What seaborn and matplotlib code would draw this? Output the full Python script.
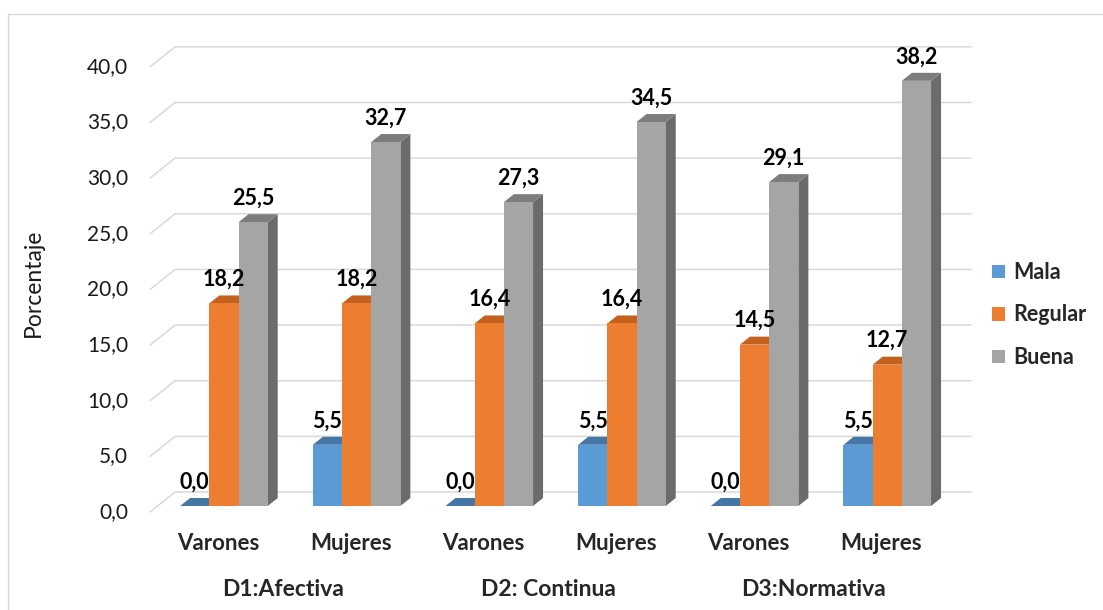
import numpy as np
import pandas as pd
import matplotlib
matplotlib.use("Agg")
import matplotlib.pyplot as plt
import seaborn as sns
from matplotlib.patches import Polygon, Patch
from matplotlib.lines import Line2D
from matplotlib.transforms import ScaledTranslation, IdentityTransform

# ---- data -------------------------------------------------------------
dimensions = ["D1:Afectiva", "D2: Continua", "D3:Normativa"]
sexes = ["Varones", "Mujeres"]
levels = ["Mala", "Regular", "Buena"]
mala = [0.0, 5.5, 0.0, 5.5, 0.0, 5.5]
regular = [18.2, 18.2, 16.4, 16.4, 14.5, 12.7]
buena = [25.5, 32.7, 27.3, 34.5, 29.1, 38.2]
y_ticks = [0, 5, 10, 15, 20, 25, 30, 35, 40]

# ---- style ------------------------------------------------------------
front_colors = ["#5b9bd5", "#ed7d31", "#a5a5a5"]
top_colors = ["#4676a6", "#c4611f", "#7d7d7d"]
side_colors = ["#41709c", "#b8581a", "#6b6b6b"]
grid_color = "#d9d9d9"
FONT = "Lato"

sns.set_theme(style="white")
plt.rcParams["font.family"] = [FONT, "DejaVu Sans"]

DPI = 100
W, H = 1103, 610
fig = plt.figure(figsize=(W / DPI, H / DPI), dpi=DPI)
ax = fig.add_axes([157.6 / W, (H - 506) / H, 796 / W, 445.2 / H])

# long-form table for seaborn
groups = [f"{d}|{s}" for d in dimensions for s in sexes]
values = {"Mala": mala, "Regular": regular, "Buena": buena}
rows = []
for lvl in levels:
    for g, v in zip(groups, values[lvl]):
        rows.append({"grupo": g, "nivel": lvl, "valor": v})
df = pd.DataFrame(rows)

sns.barplot(data=df, x="grupo", y="valor", hue="nivel", order=groups,
            hue_order=levels, palette=front_colors, saturation=1,
            width=0.66, legend=False, errorbar=None, linewidth=0,
            ax=ax)

ax.set_xlim(-0.5, len(groups) - 0.5)
ax.set_ylim(0, 40)
ax.set_axis_off()

fig.canvas.draw()

# depth offsets in pixels
BAR_DX, BAR_DY = 10, 8          # bar depth
BACK_DX, BACK_DY = 17.5, 14     # bar plane -> back wall
FRONT_DX, FRONT_DY = -7.5, -6   # bar plane -> front edge

# gridlines on back wall with diagonal to the front
for v in y_ticks:
    (xl, yv), = ax.transData.transform([(-0.5, v)])
    (xr, _), = ax.transData.transform([(len(groups) - 0.5, v)])
    ax.add_artist(Line2D([xl + FRONT_DX, xl + BACK_DX, xr + BACK_DX],
                         [yv + FRONT_DY, yv + BACK_DY, yv + BACK_DY],
                         transform=IdentityTransform(), color=grid_color,
                         lw=1.1, zorder=1, clip_on=False))

# 3D faces for each bar + value labels
for ci, cont in enumerate(ax.containers):
    for bar in cont:
        bar.set_zorder(3)
        x0, w, h = bar.get_x(), bar.get_width(), bar.get_height()
        (px0, py0), (px1, py1) = ax.transData.transform([(x0, 0), (x0 + w, h)])
        top = Polygon([(px0, py1), (px1, py1), (px1 + BAR_DX, py1 + BAR_DY),
                       (px0 + BAR_DX, py1 + BAR_DY)], closed=True,
                      transform=IdentityTransform(), facecolor=top_colors[ci],
                      edgecolor="none", zorder=2, clip_on=False)
        side = Polygon([(px1, py0), (px1 + BAR_DX, py0 + BAR_DY),
                        (px1 + BAR_DX, py1 + BAR_DY), (px1, py1)], closed=True,
                       transform=IdentityTransform(), facecolor=side_colors[ci],
                       edgecolor="none", zorder=2, clip_on=False)
        ax.add_artist(side)
        ax.add_artist(top)
        label = f"{h:.1f}".replace(".", ",")
        ax.text(x0 + w / 2, h, label, ha="center", va="center",
                fontsize=15.5, fontweight="bold", color="black",
                transform=ax.transData + ScaledTranslation(0, 24 / DPI, fig.dpi_scale_trans),
                clip_on=False, zorder=6)

# y tick labels at the front edge
ytrans = ax.get_yaxis_transform() + ScaledTranslation(-29.6 / DPI, -6 / DPI, fig.dpi_scale_trans)
for v in y_ticks:
    ax.text(0, v, f"{v:.1f}".replace(".", ","), ha="right", va="center",
            fontsize=15, color="#1a1a1a", transform=ytrans, clip_on=False)

# category labels
sex_trans = ax.get_xaxis_transform() + ScaledTranslation(-6 / DPI, -37 / DPI, fig.dpi_scale_trans)
dim_trans = ax.get_xaxis_transform() + ScaledTranslation(-7 / DPI, -83 / DPI, fig.dpi_scale_trans)
for i, g in enumerate(groups):
    ax.text(i, 0, g.split("|")[1], ha="center", va="center", fontsize=16,
            fontweight="bold", transform=sex_trans, clip_on=False)
for k, d in enumerate(dimensions):
    ax.text(2 * k + 0.5, 0, d, ha="center", va="center", fontsize=16.5,
            fontweight="bold", transform=dim_trans, clip_on=False)

fig.text(33 / W, 1 - 283 / H, "Porcentaje", rotation=90, ha="center",
         va="center", fontsize=16.5, color="#1a1a1a")

# legend
handles = [Patch(facecolor=c, edgecolor="none", label=l)
           for c, l in zip(front_colors, levels)]
leg = fig.legend(handles=handles, loc="center left",
                 bbox_to_anchor=(992 / W, 1 - 315 / H), frameon=False,
                 prop={"family": FONT, "weight": "bold", "size": 15.5},
                 handlelength=0.6, handleheight=0.6, handletextpad=0.4,
                 labelspacing=1.0, borderpad=0, borderaxespad=0)

# chart border (top and left edges)
fig.add_artist(Line2D([8, W + 2], [H - 14, H - 14], transform=IdentityTransform(),
                      color=grid_color, lw=1.0))
fig.add_artist(Line2D([8, 8], [H - 14, -2], transform=IdentityTransform(),
                      color=grid_color, lw=1.0))

fig.savefig("out.png", dpi=DPI, facecolor="white")
